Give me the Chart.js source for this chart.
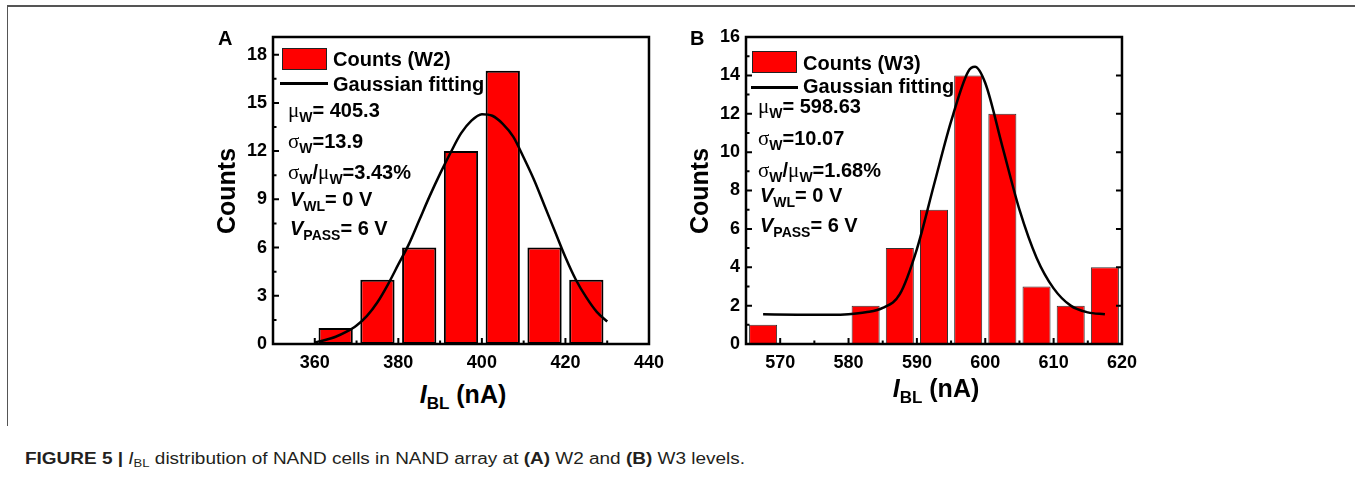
<!DOCTYPE html>
<html>
<head>
<meta charset="utf-8">
<script src="https://cdn.jsdelivr.net/npm/chart.js@4.4.1/dist/chart.umd.min.js"></script>
<style>
  html, body { margin: 0; padding: 0; background: #fff; }
  body { width: 1355px; height: 478px; position: relative; overflow: hidden; }
  .frame { position: absolute; left: 7px; top: 5px; width: 1348px; height: 419px;
           border-left: 1.5px solid #555; border-top: 2px solid #555; }
  canvas { position: absolute; }
  .t { position: absolute; font-family: "Liberation Sans", Arial, sans-serif; font-weight: bold;
       font-size: 20px; line-height: 20px; white-space: nowrap; color: #000; }
  .g { font-family: "Liberation Serif", "Times New Roman", serif; font-weight: normal; font-size: 21px; }
  .s { font-size: 14px; position: relative; top: 5px; }
  .ytitle { position: absolute; font-family: "Liberation Sans", Arial, sans-serif; font-weight: bold;
            font-size: 25px; line-height: 25px; white-space: nowrap;
            transform: translate(-50%, -50%) rotate(-90deg); }
  .xtitle { position: absolute; font-family: "Liberation Sans", Arial, sans-serif; font-weight: bold;
            font-size: 25px; line-height: 25px; white-space: nowrap; transform: translateX(-50%); }
  .xtitle .sb { font-size: 17px; position: relative; top: 6px; }
  .box { position: absolute; width: 45px; height: 22px; background: #f00; box-sizing: border-box; border: 1.5px solid #222; }
  .ln { position: absolute; height: 3px; background: #000; }
  .caption { position: absolute; left: 25px; top: 451px; font-family: "Liberation Sans Narrow", "Liberation Sans", Arial, sans-serif;
             font-size: 16px; line-height: 16px; color: #231f20; white-space: nowrap; transform-origin: 0 0; }
  .caption .sb { font-size: 11px; position: relative; top: 3px; }
</style>
</head>
<body>
<div class="frame"></div>

<canvas id="chartA" width="443" height="361" style="left:229px;top:19px"></canvas>
<canvas id="chartB" width="443" height="361" style="left:702px;top:19px"></canvas>

<!-- panel A texts -->
<div class="t" style="left:218px;top:28px">A</div>
<div class="box" style="left:282px;top:48px"></div>
<div class="ln" style="left:280px;top:82px;width:48px"></div>
<div class="t" style="left:333px;top:49px">Counts (W2)</div>
<div class="t" style="left:333px;top:74px">Gaussian fitting</div>
<div class="t" style="left:288px;top:100px"><span class="g">μ</span><span class="s">W</span>= 405.3</div>
<div class="t" style="left:288px;top:131px"><span class="g">σ</span><span class="s">W</span>=13.9</div>
<div class="t" style="left:288px;top:162px"><span class="g">σ</span><span class="s">W</span>/<span class="g">μ</span><span class="s">W</span>=3.43%</div>
<div class="t" style="left:290px;top:189px"><i>V</i><span class="s">WL</span>= 0 V</div>
<div class="t" style="left:290px;top:218px"><i>V</i><span class="s">PASS</span>= 6 V</div>
<div class="ytitle" style="left:226px;top:191px">Counts</div>
<div class="xtitle" style="left:463px;top:382px"><i>I</i><span class="sb">BL</span> (nA)</div>

<!-- panel B texts -->
<div class="t" style="left:690px;top:28px">B</div>
<div class="box" style="left:752px;top:51px"></div>
<div class="ln" style="left:751px;top:86px;width:47px"></div>
<div class="t" style="left:803px;top:53px">Counts (W3)</div>
<div class="t" style="left:803px;top:76px">Gaussian fitting</div>
<div class="t" style="left:758px;top:96px"><span class="g">μ</span><span class="s">W</span>= 598.63</div>
<div class="t" style="left:758px;top:128px"><span class="g">σ</span><span class="s">W</span>=10.07</div>
<div class="t" style="left:758px;top:160px"><span class="g">σ</span><span class="s">W</span>/<span class="g">μ</span><span class="s">W</span>=1.68%</div>
<div class="t" style="left:760px;top:185px"><i>V</i><span class="s">WL</span>= 0 V</div>
<div class="t" style="left:760px;top:215px"><i>V</i><span class="s">PASS</span>= 6 V</div>
<div class="ytitle" style="left:699px;top:191px">Counts</div>
<div class="xtitle" style="left:936px;top:376px"><i>I</i><span class="sb">BL</span> (nA)</div>

<div class="caption" id="caption"><b>FIGURE 5 |</b> <i>I</i><span class="sb">BL</span> distribution of NAND cells in NAND array at <b>(A)</b> W2 and <b>(B)</b> W3 levels.</div>

<script>
// panel A: W2 histogram (bin centres, nA) and counts
const binsW2 = [365, 375, 385, 395, 405, 415, 425];
const countsW2 = [1, 4, 6, 12, 17, 6, 4];
// Gaussian fit curve
const fitXW2 = [360, 362.5, 365, 367.5, 370, 372.5, 375, 377.5, 380, 382.5, 385, 387.5, 390, 392.5, 395, 397.5,
                400, 402.5, 405, 407.5, 410, 412.5, 415, 417.5, 420, 422.5, 425, 427.5, 430];
const fitYW2 = [0.1, 0.25, 0.45, 0.75, 1.15, 1.75, 2.6, 3.7, 4.95, 6.2, 7.7, 9.2, 10.6, 11.9, 13.1, 13.9,
                14.3, 14.2, 13.7, 12.9, 11.6, 10.2, 8.6, 7.0, 5.4, 4.0, 2.9, 2.0, 1.4];
const xTicksA = [360, 380, 400, 420, 440];
const yTicksA = [0, 3, 6, 9, 12, 15, 18];

// panel B: W3 histogram
const binsW3 = [567.5, 572.5, 577.5, 582.5, 587.5, 592.5, 597.5, 602.5, 607.5, 612.5, 617.5];
const countsW3 = [1, 0, 0, 2, 5, 7, 14, 12, 3, 2, 4];
const fitXW3 = [567.5, 572.5, 577.5, 580, 582.5, 585, 587.5, 590, 592.5, 595, 597.5, 598.5,
                600, 602.5, 605, 607.5, 610, 612.5, 615, 617.5];
const fitYW3 = [1.55, 1.53, 1.52, 1.55, 1.65, 1.88, 2.6, 4.95, 8.3, 11.6, 14.2, 14.45,
                13.6, 10.3, 7.0, 4.5, 2.9, 2.0, 1.65, 1.55];
const xTicksB = [570, 580, 590, 600, 610, 620];
const yTicksB = [0, 2, 4, 6, 8, 10, 12, 14, 16];

const tickFont = { family: '"Liberation Sans", Arial, sans-serif', size: 18, weight: 'bold' };

// inward ticks + box frame, placed through the chart scales
const innerTicks = {
  id: 'innerTicks',
  afterDraw(chart, args, opts) {
    const { ctx, chartArea: a, scales: { x, y } } = chart;
    const mid = arr => arr.slice(1).map((v, i) => (v + arr[i]) / 2);
    ctx.save();
    ctx.strokeStyle = '#000';
    ctx.lineWidth = 2;
    ctx.beginPath();
    const yMaj = opts.yTicks, yMin = mid(opts.yTicks);
    const xMaj = opts.xTicks, xMin = mid([opts.xTicks[0] - (opts.xTicks[1] - opts.xTicks[0])].concat(opts.xTicks));
    yMaj.forEach(v => { const p = y.getPixelForValue(v); ctx.moveTo(a.left, p); ctx.lineTo(a.left + 6, p); });
    yMin.forEach(v => { const p = y.getPixelForValue(v); ctx.moveTo(a.left, p); ctx.lineTo(a.left + 3.5, p); });
    xMaj.forEach(v => { const p = x.getPixelForValue(v); ctx.moveTo(p, a.bottom); ctx.lineTo(p, a.bottom - 6); });
    xMin.forEach(v => {
      if (v < x.min) return;
      const p = x.getPixelForValue(v); ctx.moveTo(p, a.bottom); ctx.lineTo(p, a.bottom - 3.5);
    });
    if (opts.right) {
      yMaj.forEach(v => { const p = y.getPixelForValue(v); ctx.moveTo(a.right, p); ctx.lineTo(a.right - 6, p); });
    }
    ctx.stroke();
    ctx.lineWidth = 2.5;
    ctx.strokeRect(a.left, a.top, a.right - a.left, a.bottom - a.top);
    ctx.restore();
  }
};

function makeChart(id, bins, counts, fitX, fitY, xMin, xMax, yMax, xTicks, yTicks, barBorder, barBorderW, padRight, rightTicks) {
  return new Chart(document.getElementById(id), {
    data: {
      datasets: [
        {
          type: 'line',
          data: fitX.map((v, i) => ({ x: v, y: fitY[i] })),
          borderColor: '#000',
          borderWidth: 2.5,
          pointRadius: 0,
          cubicInterpolationMode: 'monotone',
          fill: false,
          order: 0
        },
        {
          type: 'bar',
          data: bins.map((v, i) => ({ x: v, y: counts[i] })),
          backgroundColor: '#ff0000',
          borderColor: barBorder,
          borderWidth: barBorderW,
          borderSkipped: false,
          barPercentage: 0.82,
          categoryPercentage: 1.0,
          order: 1
        }
      ]
    },
    options: {
      responsive: false,
      animation: false,
      layout: { padding: { left: 0, top: 18, right: padRight, bottom: 0 } },
      plugins: {
        legend: { display: false },
        tooltip: { enabled: false },
        innerTicks: { xTicks: xTicks, yTicks: yTicks, right: rightTicks }
      },
      scales: {
        x: {
          type: 'linear', min: xMin, max: xMax, offset: false,
          grid: { display: false, drawTicks: false, offset: false },
          border: { display: false },
          ticks: { font: tickFont, color: '#000', padding: 8, maxRotation: 0 },
          afterBuildTicks: s => { s.ticks = xTicks.map(v => ({ value: v })); },
          afterFit: s => { s.height = 36; }
        },
        y: {
          type: 'linear', min: 0, max: yMax,
          grid: { display: false, drawTicks: false },
          border: { display: false },
          ticks: { font: tickFont, color: '#000', padding: 6 },
          afterBuildTicks: s => { s.ticks = yTicks.map(v => ({ value: v })); },
          afterFit: s => { s.width = 44; }
        }
      }
    },
    plugins: [innerTicks]
  });
}

makeChart('chartA', binsW2, countsW2, fitXW2, fitYW2, 350, 440, 19.1, xTicksA, yTicksA, '#000', 2, 18, false);
makeChart('chartB', binsW3, countsW3, fitXW3, fitYW3, 565, 620, 16, xTicksB, yTicksB, '#333', 1, 19, true);

// squeeze caption to the width it has in the figure
const cap = document.getElementById('caption');
const w = cap.getBoundingClientRect().width;
cap.style.transform = 'scaleX(' + (720 / w) + ')';
</script>
</body>
</html>
